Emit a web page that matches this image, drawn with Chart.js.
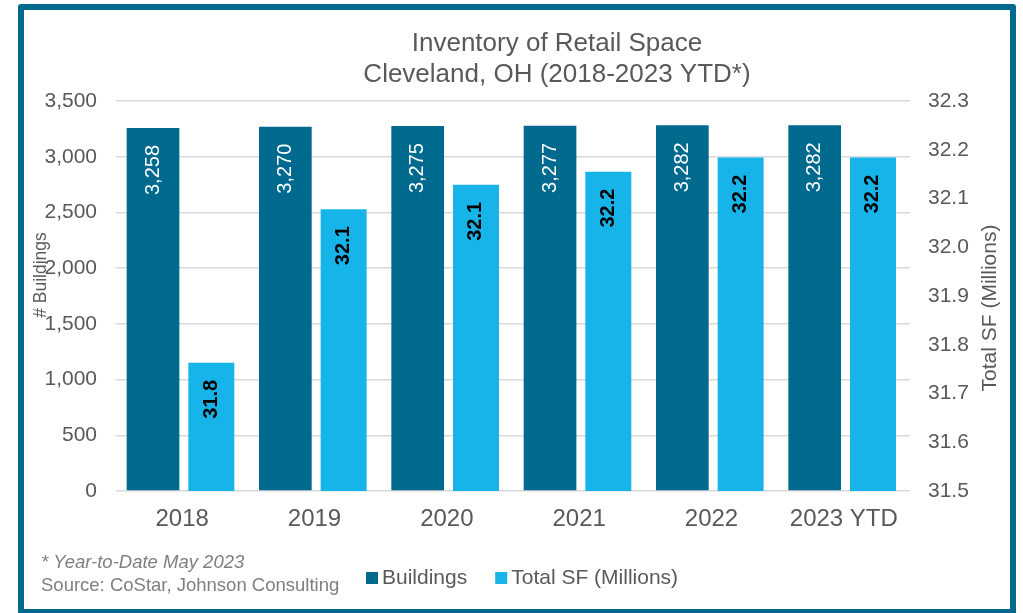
<!DOCTYPE html>
<html>
<head>
<meta charset="utf-8">
<title>Inventory of Retail Space - Cleveland, OH</title>
<script src="https://cdn.jsdelivr.net/npm/chart.js@4/dist/chart.umd.min.js"></script>
<style>
  html, body { margin: 0; padding: 0; background: #fff; width: 1023px; height: 613px; overflow: hidden; }
  #frame { position: absolute; left: 18px; top: 4px; width: 986px; height: 599px;
           border: 6px solid #006A8E; border-radius: 3px; background: #fff; }
  #c { position: absolute; left: 0; top: 0; }
</style>
</head>
<body>
<div id="frame"></div>
<canvas id="c" width="1023" height="613"></canvas>
<script>
// ---- data ----
const categories = ['2018', '2019', '2020', '2021', '2022', '2023 YTD'];
const buildings  = [3258, 3270, 3275, 3277, 3282, 3282];
const totalSF    = [31.763, 32.078, 32.128, 32.155, 32.184, 32.184];

// axis ranges
const buildingsAxis = { min: 0, max: 3500, step: 500 };
const sfAxis        = { min: 31.5, max: 32.3, step: 0.1 };

// texts
const titleLines = ['Inventory of Retail Space', 'Cleveland, OH (2018-2023 YTD*)'];
const leftAxisTitle  = '# Buildings';
const rightAxisTitle = 'Total SF (Millions)';
const footnoteLines  = ['* Year-to-Date May 2023', 'Source: CoStar, Johnson Consulting'];

// ---- styling ----
const FONT = '"Liberation Sans", Arial, Helvetica, sans-serif';
const DARK = '#006A8E';
const LIGHT = '#17B4E9';
const TEXT = '#595959';
const GRID = '#D9D9D9';

const valueLabelStyle = [
  { font: '20px ' + FONT, color: '#FFFFFF', format: v => v.toLocaleString('en-US') },
  { font: 'bold 20px ' + FONT, color: '#000000', format: v => v.toFixed(1) }
];

// value labels drawn rotated inside the top of each bar, plus titles, legend and notes
const decorations = {
  id: 'decorations',
  afterDatasetsDraw(chart) {
    const ctx = chart.ctx;
    chart.data.datasets.forEach((ds, i) => {
      const meta = chart.getDatasetMeta(i);
      const st = valueLabelStyle[i];
      meta.data.forEach((bar, j) => {
        ctx.save();
        ctx.translate(bar.x, bar.y + 17);
        ctx.rotate(-Math.PI / 2);
        ctx.font = st.font;
        ctx.fillStyle = st.color;
        ctx.textAlign = 'right';
        ctx.textBaseline = 'middle';
        ctx.fillText(st.format(ds.data[j]), 0, 0);
        ctx.restore();
      });
    });
  },
  afterDraw(chart) {
    const ctx = chart.ctx;
    ctx.save();
    // chart title
    ctx.fillStyle = TEXT;
    ctx.font = '26px ' + FONT;
    ctx.textAlign = 'center';
    ctx.textBaseline = 'middle';
    ctx.fillText(titleLines[0], 557, 44);
    ctx.fillText(titleLines[1], 557, 75);

    // axis titles
    ctx.save();
    ctx.translate(41, 275);
    ctx.rotate(-Math.PI / 2);
    ctx.font = '17.5px ' + FONT;
    ctx.fillText(leftAxisTitle, 0, 0);
    ctx.restore();

    ctx.save();
    ctx.translate(990, 308);
    ctx.rotate(-Math.PI / 2);
    ctx.font = '21px ' + FONT;
    ctx.fillText(rightAxisTitle, 0, 0);
    ctx.restore();

    // footnote
    ctx.textAlign = 'left';
    ctx.fillStyle = '#7F7F7F';
    ctx.font = 'italic 18.5px ' + FONT;
    ctx.fillText(footnoteLines[0], 41, 563);
    ctx.font = '18.5px ' + FONT;
    ctx.fillText(footnoteLines[1], 41, 586);

    // legend
    ctx.font = '21px ' + FONT;
    let x = 366;
    const y = 578;
    chart.data.datasets.forEach(ds => {
      ctx.fillStyle = ds.backgroundColor;
      ctx.fillRect(x, y - 6, 12, 12);
      x += 16;
      ctx.fillStyle = TEXT;
      ctx.fillText(ds.label, x, y);
      x += ctx.measureText(ds.label).width + 28;
    });
    ctx.restore();
  }
};

new Chart(document.getElementById('c'), {
  type: 'bar',
  data: {
    labels: categories,
    datasets: [
      { label: 'Buildings', data: buildings, yAxisID: 'y',
        backgroundColor: DARK, barPercentage: 0.904, categoryPercentage: 0.881 },
      { label: 'Total SF (Millions)', data: totalSF, yAxisID: 'y1',
        backgroundColor: LIGHT, barPercentage: 0.789, categoryPercentage: 0.881 }
    ]
  },
  options: {
    responsive: false,
    animation: false,
    devicePixelRatio: 1,
    layout: { padding: { top: 101, left: 0, right: 0, bottom: 0 } },
    plugins: {
      legend: { display: false },
      title: { display: false },
      tooltip: { enabled: false }
    },
    scales: {
      x: {
        grid: { display: false, drawTicks: false },
        border: { display: false },
        ticks: { color: TEXT, font: { family: FONT, size: 24 }, padding: 14, maxRotation: 0 },
        afterFit(scale) { scale.height = 122; }
      },
      y: {
        position: 'left',
        min: buildingsAxis.min, max: buildingsAxis.max,
        grid: { color: GRID, lineWidth: 1.5, drawTicks: false },
        border: { display: false },
        ticks: { stepSize: buildingsAxis.step, color: TEXT, font: { family: FONT, size: 21 }, padding: 19,
                 callback: v => v.toLocaleString('en-US') },
        afterFit(scale) { scale.width = 116; }
      },
      y1: {
        position: 'right',
        min: sfAxis.min, max: sfAxis.max,
        grid: { display: false, drawTicks: false },
        border: { display: false },
        ticks: { stepSize: sfAxis.step, color: TEXT, font: { family: FONT, size: 21 }, padding: 18,
                 callback: v => Number(v).toFixed(1) },
        afterFit(scale) { scale.width = 113; }
      }
    }
  },
  plugins: [decorations]
});
</script>
</body>
</html>
